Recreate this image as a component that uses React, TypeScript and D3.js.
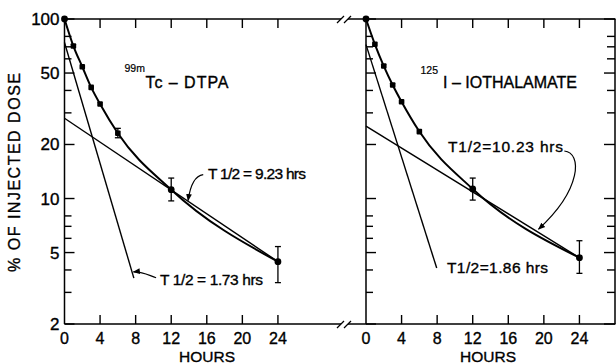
import React from 'react';
import * as d3 from 'd3';

// sampling times (hours) and mean % of injected dose
const hours = [0, 1, 2, 3, 4, 6, 12, 24];
const dtpaDose = [100, 70.7, 54.2, 41.6, 33.6, 23.1, 11.2, 4.45];
const iothDose = [100, 72.3, 54.7, 42.9, 34.6, 23.6, 11.3, 4.68];

// error bars
const dtpaErrHours = [6, 12, 24];
const dtpaErrLow = [21.8, 9.7, 3.4];
const dtpaErrHigh = [24.6, 13.0, 5.4];
const iothErrHours = [12, 24];
const iothErrLow = [9.8, 3.83];
const iothErrHigh = [13.0, 5.82];

// fitted exponential components (end points)
const dtpaFastHours = [0, 7.8];
const dtpaFast = [74, 3.6];
const dtpaSlowHours = [0, 24];
const dtpaSlow = [28, 4.45];
const iothFastHours = [0, 7.95];
const iothFast = [72, 4.1];
const iothSlowHours = [0, 24];
const iothSlow = [25.3, 4.68];

const xTicks = [0, 4, 8, 12, 16, 20, 24];
const yLabelTicks = [2, 5, 10, 20, 50, 100];
const yMinorTicks = [3, 4, 6, 7, 8, 30, 40, 60, 70, 80];

const FONT = '"Liberation Sans", Arial, sans-serif';
const TOP = 19;
const BOTTOM = 324;
const y = d3.scaleLog().domain([2, 100]).range([BOTTOM, TOP]);

type Ann = { text: string; dx: number; y: number; w?: number };
type PanelProps = {
  x0: number;
  dose: number[];
  errHours: number[];
  errLow: number[];
  errHigh: number[];
  fast: [number[], number[]];
  slow: [number[], number[]];
  sup: Ann;
  title: Ann;
  slowLabel: Ann;
  fastLabel: Ann;
  slowLeader: number[][];
  fastLeader: number[][] | null;
  yLabels: boolean;
  rightAxis: boolean;
};

const txt = { fontFamily: FONT, fill: '#000', stroke: '#000', strokeWidth: 0.35 };

function Panel(p: PanelProps) {
  const x = d3.scaleLinear().domain([0, 28]).range([p.x0, p.x0 + 249]);
  const pts = hours.map((h, i) => [h, p.dose[i]] as [number, number]);
  const curve = d3.line<[number, number]>().x(d => x(d[0])).y(d => y(d[1])).curve(d3.curveMonotoneX);
  const straight = d3.line<[number, number]>().x(d => x(d[0])).y(d => y(d[1]));
  const comp = (c: [number[], number[]]) => c[0].map((h, i) => [h, c[1][i]] as [number, number]);
  const leader = (l: number[][]) => {
    const q = l.map(d => [x(d[0]), y(d[1])]);
    return `M${q[0][0]},${q[0][1]} C${q[1][0]},${q[1][1]} ${q[2][0]},${q[2][1]} ${q[3][0]},${q[3][1]}`;
  };
  const ax = x(0);
  const rx = 615;
  const yTicks = [...yLabelTicks, ...yMinorTicks].map(v => ({ v, len: yLabelTicks.includes(v) ? 10 : 7 }));

  return (
    <g>
      {/* vertical axes and inward ticks */}
      <rect x={ax - 0.75} y={TOP} width={1.5} height={BOTTOM - TOP} fill="#000" />
      {p.rightAxis && <rect x={rx - 0.75} y={TOP} width={1.5} height={BOTTOM - TOP} fill="#000" />}
      {yTicks.map(d => (
        <rect key={'lt' + d.v} x={ax} y={y(d.v) - 0.7} width={d.len} height={1.4} fill="#000" />
      ))}
      {p.rightAxis && yTicks.map(d => (
        <rect key={'rt' + d.v} x={rx - d.len - 1} y={y(d.v) - 0.7} width={d.len + 1} height={1.4} fill="#000" />
      ))}
      {xTicks.filter(t => t > 0).map(t => (
        <g key={'xt' + t}>
          <rect x={x(t) - 0.7} y={TOP} width={1.4} height={9} fill="#000" />
          <rect x={x(t) - 0.7} y={BOTTOM - 9} width={1.4} height={9} fill="#000" />
        </g>
      ))}

      {p.yLabels && yLabelTicks.map(v => (
        <text key={'yl' + v} x={ax - 5} y={y(v) + 6} textAnchor="end" fontSize={17} {...txt}>{v}</text>
      ))}
      {xTicks.map(t => (
        <text key={'xl' + t} x={x(t)} y={344} textAnchor="middle" fontSize={16} {...txt}>{t}</text>
      ))}

      {/* fitted components */}
      <path d={straight(comp(p.fast)) || ''} fill="none" stroke="#000" strokeWidth={1.4} />
      <path d={straight(comp(p.slow)) || ''} fill="none" stroke="#000" strokeWidth={1.4} />
      {/* data curve */}
      <path d={curve(pts) || ''} fill="none" stroke="#000" strokeWidth={2} />

      {/* error bars */}
      {p.errHours.map((h, i) => (
        <g key={'e' + h} stroke="#000" strokeWidth={1.3}>
          <line x1={x(h)} x2={x(h)} y1={y(p.errLow[i])} y2={y(p.errHigh[i])} />
          <line x1={x(h) - 3} x2={x(h) + 3} y1={y(p.errLow[i])} y2={y(p.errLow[i])} />
          <line x1={x(h) - 3} x2={x(h) + 3} y1={y(p.errHigh[i])} y2={y(p.errHigh[i])} />
        </g>
      ))}
      {/* points */}
      {pts.map(d => (d[0] === 0 || d[0] >= 12
        ? <circle key={'p' + d[0]} cx={x(d[0])} cy={y(d[1])} r={3.4} fill="#000" />
        : <rect key={'p' + d[0]} x={x(d[0]) - 2.8} y={y(d[1]) - 2.8} width={5.6} height={5.6} rx={1} fill="#000" />
      ))}

      {/* titles */}
      <text x={p.x0 + p.sup.dx} y={p.sup.y} fontSize={10.5} {...txt} strokeWidth={0.2}>{p.sup.text}</text>
      <text x={p.x0 + p.title.dx} y={p.title.y} fontSize={16} {...txt} textLength={p.title.w}>{p.title.text}</text>
      <text x={p.x0 + p.slowLabel.dx} y={p.slowLabel.y} fontSize={15.5} {...txt} textLength={p.slowLabel.w}>{p.slowLabel.text}</text>
      <text x={p.x0 + p.fastLabel.dx} y={p.fastLabel.y} fontSize={15.5} {...txt} textLength={p.fastLabel.w}>{p.fastLabel.text}</text>

      {/* leaders */}
      <path d={leader(p.slowLeader)} fill="none" stroke="#000" strokeWidth={1.2} markerEnd="url(#arr)" />
      {p.fastLeader && <path d={leader(p.fastLeader)} fill="none" stroke="#000" strokeWidth={1.2} markerEnd="url(#arr)" />}
    </g>
  );
}

export default function App() {
  return (
    <svg width={616} height={364} style={{ position: 'absolute', left: 0, top: 0, background: '#fff' }}>
      <defs>
        <marker id="arr" viewBox="0 0 10 10" refX={9} refY={5} markerWidth={6} markerHeight={6} orient="auto">
          <path d="M0,1 L10,5 L0,9 Z" fill="#000" />
        </marker>
      </defs>
      <rect width={616} height={364} fill="#fff" />

      {/* shared top and bottom frame with axis break */}
      <path
        d={`M64.5,${TOP}H341M348,${TOP}H615.5M64.5,${BOTTOM}H341M348,${BOTTOM}H615.5`}
        stroke="#000" strokeWidth={1.5} fill="none"
      />
      <path
        d={`M337,${TOP + 4}L344,${TOP - 3}M344,${TOP + 4}L351,${TOP - 3}M337,${BOTTOM + 4}L344,${BOTTOM - 3}M344,${BOTTOM + 4}L351,${BOTTOM - 3}`}
        stroke="#000" strokeWidth={1.3} fill="none"
      />

      <Panel
        x0={64.5}
        dose={dtpaDose}
        errHours={dtpaErrHours}
        errLow={dtpaErrLow}
        errHigh={dtpaErrHigh}
        fast={[dtpaFastHours, dtpaFast]}
        slow={[dtpaSlowHours, dtpaSlow]}
        sup={{ text: '99m', dx: 60, y: 72 }}
        title={{ text: 'Tc – DTPA', dx: 81, y: 88, w: 83 }}
        slowLabel={{ text: 'T 1/2 = 9.23 hrs', dx: 143.5, y: 178.5, w: 98 }}
        fastLabel={{ text: 'T 1/2 = 1.73 hrs', dx: 95.5, y: 285, w: 103 }}
        slowLeader={[[15.6, 13.6], [14.6, 13.4], [14.1, 11.5], [13.9, 9.75]]}
        fastLeader={[[10.3, 3.62], [9.4, 3.75], [8.6, 3.95], [7.75, 3.9]]}
        yLabels={true}
        rightAxis={false}
      />
      <Panel
        x0={366}
        dose={iothDose}
        errHours={iothErrHours}
        errLow={iothErrLow}
        errHigh={iothErrHigh}
        fast={[iothFastHours, iothFast]}
        slow={[iothSlowHours, iothSlow]}
        sup={{ text: '125', dx: 54.5, y: 74 }}
        title={{ text: 'I – IOTHALAMATE', dx: 77, y: 87.5, w: 134 }}
        slowLabel={{ text: 'T1/2=10.23 hrs', dx: 82, y: 151.5, w: 115 }}
        fastLabel={{ text: 'T1/2=1.86 hrs', dx: 81, y: 272.5, w: 101 }}
        slowLeader={[[22.3, 18.4], [24.3, 18.0], [24.3, 11.3], [19.4, 6.75]]}
        fastLeader={null}
        yLabels={false}
        rightAxis={true}
      />

      <text x={207} y={362} textAnchor="middle" fontSize={15.5} {...txt}>HOURS</text>
      <text x={488} y={362} textAnchor="middle" fontSize={15.5} {...txt}>HOURS</text>
      <text transform="translate(20,172.5) rotate(-90)" textAnchor="middle" fontSize={16} {...txt} textLength={199}>% OF INJECTED DOSE</text>
    </svg>
  );
}
